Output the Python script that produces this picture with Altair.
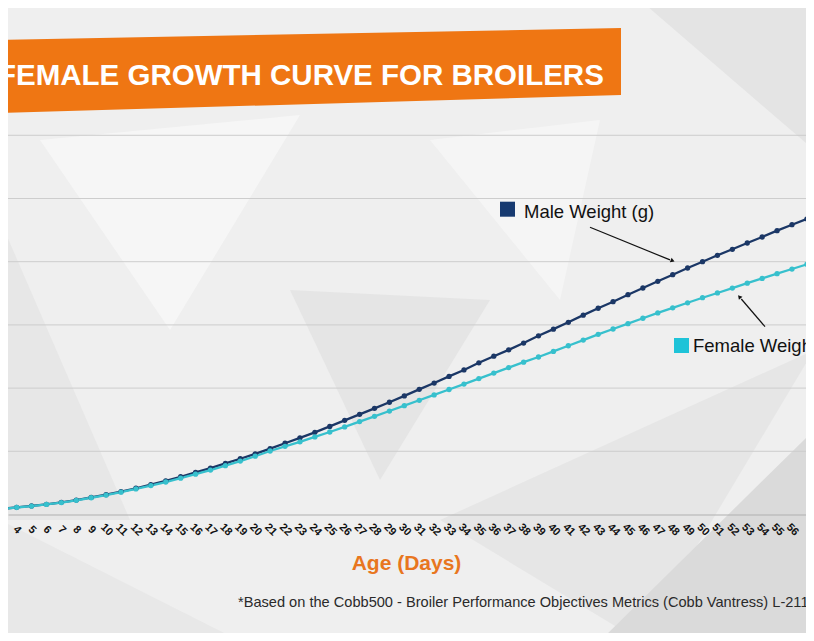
import altair as alt
import pandas as pd

# ---- data ----
days = list(range(3, 59))
male_weight = [90, 112, 135, 161, 192, 228, 270, 314, 362, 415, 472, 532,
               597, 665, 735, 808, 882, 960, 1042,
               1127, 1213, 1300, 1394, 1490, 1585, 1680, 1776, 1876,
               1980, 2080, 2185, 2287, 2400, 2505, 2605, 2713, 2827, 2933,
               3041, 3154, 3263, 3367, 3478, 3584, 3690, 3794, 3900, 4000,
               4101, 4196, 4296, 4391, 4491, 4585, 4676, 4765]
female_weight = [89, 111, 133, 159, 189, 224, 265, 307, 353, 404, 458, 514,
                 575, 638, 703, 772, 845, 922, 1005,
                 1078, 1150, 1228, 1305, 1385, 1470, 1553, 1637, 1722,
                 1807, 1892, 1978, 2063, 2150, 2237, 2325, 2410, 2492, 2580,
                 2670, 2760, 2850, 2935, 3020, 3105, 3190, 3270, 3350, 3430,
                 3505, 3583, 3660, 3735, 3810, 3884, 3958, 4030]
series_names = ["Male Weight (g)", "Female Weight (g)"]
series_colors = ["#1b3766", "#37c0cd"]
tick_days = list(range(3, 58))
grid_values = [1000, 2000, 3000, 4000, 5000, 6000]

title_text = "FEMALE GROWTH CURVE FOR BROILERS"
x_title = "Age (Days)"
footnote = "*Based on the Cobb500 - Broiler Performance Objectives Metrics (Cobb Vantress) L-2114"

rows = []
for d, m in zip(days, male_weight):
    rows.append({"day": d, "weight": m, "series": series_names[0]})
for d, f in zip(days, female_weight):
    rows.append({"day": d, "weight": f, "series": series_names[1]})
df = pd.DataFrame(rows)
grid_df = pd.DataFrame({"g": grid_values})

W, H = 798, 625
FONT = "Liberation Sans, Arial, sans-serif"

xscale = alt.Scale(domain=[3.42, 56.94], nice=False, zero=False)
yscale = alt.Scale(domain=[-1875, 8014], nice=False, zero=False)
color = alt.Color("series:N", scale=alt.Scale(domain=series_names, range=series_colors), legend=None)

base = alt.Chart(df).encode(
    x=alt.X("day:Q", scale=xscale,
            axis=alt.Axis(values=tick_days, labelAngle=45, labelAlign="center",
                          labelBaseline="middle", labelPadding=15, ticks=False, tickSize=0,
                          domainColor="#b0b0b0", domainWidth=1.2, grid=False,
                          labelFont=FONT, labelFontSize=11, labelFontWeight="bold",
                          labelColor="#111111", labelOverlap=False, labelFlush=False,
                          title=x_title, titleFont=FONT, titleFontSize=21,
                          titleFontWeight="bold", titleColor="#e8761e", titleX=398, titleY=49,
                          titleAlign="center", titleBaseline="middle", titleAngle=0,
                          offset=-118.5, zindex=1)),
    y=alt.Y("weight:Q", scale=yscale, axis=None),
    color=color,
)
lines = base.mark_line(strokeWidth=2.3, clip=True)
points = base.mark_point(filled=True, size=28, opacity=1, clip=True)

grid = alt.Chart(grid_df).mark_rule(color="#cdcdcd", strokeWidth=1).encode(
    y=alt.Y("g:Q", scale=yscale, axis=None))

one = pd.DataFrame({"a": [0]})


def shape_layer(verts, col):
    # decorative polygon given in page pixels
    pts = [(x - 8, y - 8) for x, y in verts]
    xs = [p[0] for p in pts]
    ys = [p[1] for p in pts]
    cx = (min(xs) + max(xs)) / 2
    cy = (min(ys) + max(ys)) / 2
    r = max(max(xs) - min(xs), max(ys) - min(ys)) / 2
    path = "M" + " L".join(f"{(x - cx) / r:.4f},{(y - cy) / r:.4f}" for x, y in pts) + " Z"
    return alt.Chart(one).mark_point(shape=path, filled=True, opacity=1, size=(2 * r) ** 2,
                                     color=col, strokeWidth=0).encode(
        x=alt.value(cx), y=alt.value(cy))


bg_polys = [
    ([(40, 140), (300, 115), (170, 330)], "#f6f6f6"),
    ([(0, 220), (130, 520), (0, 520)], "#e7e7e7"),
    ([(290, 290), (490, 300), (380, 480)], "#e5e5e5"),
    ([(440, 520), (814, 350), (640, 641)], "#e6e6e6"),
    ([(600, 641), (814, 430), (814, 641)], "#dadada"),
    ([(640, 0), (814, 0), (814, 150)], "#e4e4e4"),
    ([(430, 140), (600, 120), (560, 300)], "#f5f5f5"),
    ([(0, 520), (240, 641), (0, 641)], "#e8e8e8"),
]
bg_layers = [shape_layer(v, c) for v, c in bg_polys]

banner = shape_layer([(0, 40), (621, 28), (621, 95), (0, 113)], "#ef7613")

title = alt.Chart(one).mark_text(
    text=title_text, align="left", baseline="alphabetic", font=FONT,
    fontSize=29.5, fontWeight="bold", color="#ffffff"
).encode(x=alt.value(-10), y=alt.value(77))

foot = alt.Chart(one).mark_text(
    text=footnote, align="left", baseline="middle", font=FONT,
    fontSize=14.6, color="#2a2a2a"
).encode(x=alt.value(230), y=alt.value(595))

male_sq = alt.Chart(one).mark_square(filled=True, opacity=1, size=225, color="#173a70").encode(
    x=alt.value(499.5), y=alt.value(201.2))
female_sq = alt.Chart(one).mark_square(filled=True, opacity=1, size=225, color="#1ec3d8").encode(
    x=alt.value(673.5), y=alt.value(337.5))
male_lbl = alt.Chart(one).mark_text(
    text="Male Weight (g)", align="left", baseline="middle", font=FONT,
    fontSize=18.5, color="#111111").encode(x=alt.value(516), y=alt.value(204))
female_lbl = alt.Chart(one).mark_text(
    text="Female Weight (g)", align="left", baseline="middle", font=FONT,
    fontSize=18.5, color="#111111").encode(x=alt.value(685), y=alt.value(338))

male_arrow = alt.Chart(one).mark_rule(color="#111111", strokeWidth=1.2).encode(
    x=alt.value(582), y=alt.value(219.3), x2=alt.value(662), y2=alt.value(251.9))
male_head = alt.Chart(one).mark_point(shape="triangle", filled=True, opacity=1, size=22,
                                      color="#111111", angle=112).encode(
    x=alt.value(664), y=alt.value(252.5))
female_arrow = alt.Chart(one).mark_rule(color="#111111", strokeWidth=1.2).encode(
    x=alt.value(757), y=alt.value(318.7), x2=alt.value(733.3), y2=alt.value(291))
female_head = alt.Chart(one).mark_point(shape="triangle", filled=True, opacity=1, size=22,
                                        color="#111111", angle=319).encode(
    x=alt.value(731.8), y=alt.value(289.3))

chart = alt.layer(
    *bg_layers, grid, banner, title, lines, points, male_arrow, male_head, female_arrow,
    female_head, male_sq, female_sq, male_lbl, female_lbl, foot
).properties(
    width=W, height=H, autosize=alt.AutoSizeParams(type="none"), padding=0,
    background="#efefef"
).configure_view(stroke=None)

chart.save("out.html", embed_options={"renderer": "svg", "actions": False})
